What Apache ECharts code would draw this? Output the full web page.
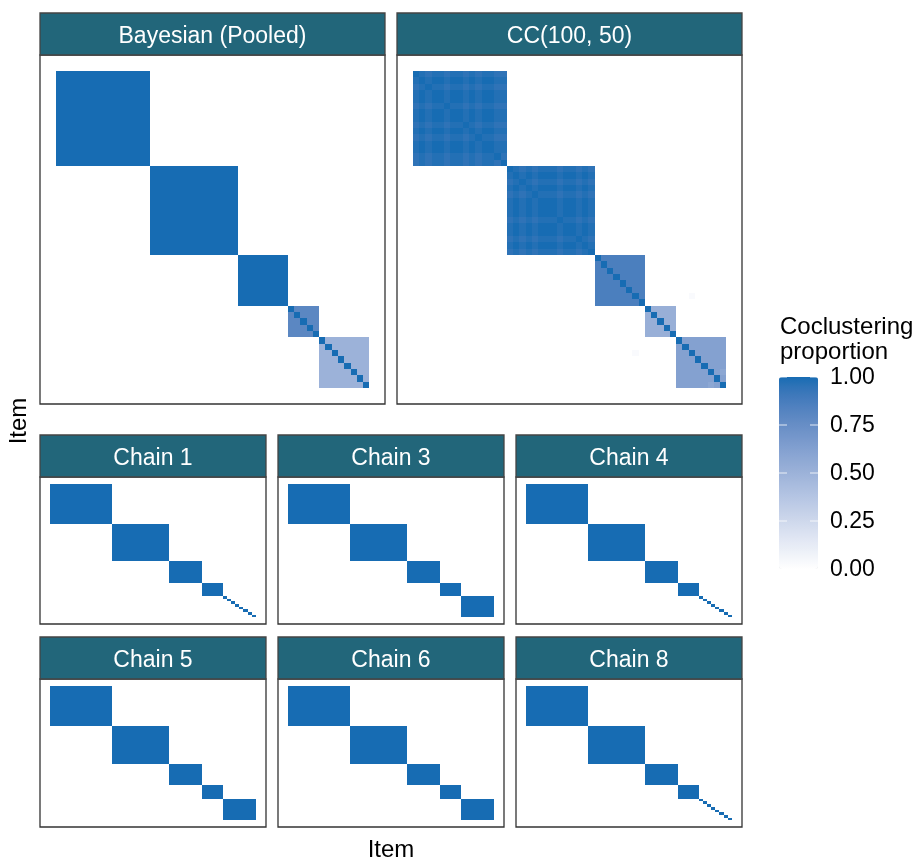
<!DOCTYPE html>
<html>
<head>
<meta charset="utf-8">
<script src="https://cdn.jsdelivr.net/npm/echarts@6/dist/echarts.min.js"></script>
<style>
  html, body { margin: 0; padding: 0; background: #ffffff; }
  #chart { width: 919px; height: 858px; }
</style>
</head>
<body>
<div id="chart"></div>
<script>
// ---- data -------------------------------------------------------------
const nItems = 50;
const items = Array.from({ length: nItems }, (_, i) => String(i + 1));

const panelTitles = ['Bayesian (Pooled)', 'CC(100, 50)', 'Chain 1', 'Chain 3', 'Chain 4', 'Chain 5', 'Chain 6', 'Chain 8'];

// cluster sizes along the ordered items, and the within-cluster coclustering proportion
const pooledSizes = [15, 14, 8, 5, 8];
const pooledWithin = [1.0, 1.0, 1.0, 0.80, 0.50];

const ccSizes = [15, 14, 8, 5, 8];
const ccWithin = [null, null, 0.86, 0.52, 0.62];
// per-item stability inside the two large CC clusters
const ccStabilityA = [0.95, 1.0, 0.95, 1.0, 1.0, 0.95, 1.0, 1.0, 0.95, 1.0, 0.95, 1.0, 1.0, 0.95, 0.95];
const ccStabilityB = [0.95, 1.0, 0.95, 1.0, 0.95, 1.0, 1.0, 1.0, 0.95, 1.0, 1.0, 0.95, 1.0, 0.95];
// isolated off-cluster pairs in CC: [item, item, proportion]
const ccStrayPairs = [[36, 45, 0.03], [48, 50, 0.58]];

// chain allocations as cluster sizes (1 = singleton)
const chain1Sizes = [15, 14, 8, 5, 1, 1, 1, 1, 1, 1, 1, 1];
const chain3Sizes = [15, 14, 8, 5, 8];
const chain4Sizes = [15, 14, 8, 5, 1, 1, 1, 1, 1, 1, 1, 1];
const chain5Sizes = [15, 14, 8, 5, 8];
const chain6Sizes = [15, 14, 8, 5, 8];
const chain8Sizes = [15, 14, 8, 5, 1, 1, 1, 1, 1, 1, 1, 1];

const legendBreaks = [0, 0.25, 0.5, 0.75, 1];
const legendLabels = ['0.00', '0.25', '0.50', '0.75', '1.00'];

// ---- matrix builders --------------------------------------------------
function blockCells(sizes, within, stability) {
  const cells = [];
  let start = 0;
  sizes.forEach((size, b) => {
    for (let i = 0; i < size; i++) {
      for (let j = 0; j < size; j++) {
        let v;
        if (i === j) v = 1;
        else if (stability && stability[b]) v = (stability[b][i] + stability[b][j]) / 2;
        else v = within ? within[b] : 1;
        cells.push([start + j, start + i, v]);
      }
    }
    start += size;
  });
  return cells;
}

function setPair(cells, a, b, v) {
  [[a, b], [b, a]].forEach(([x, y]) => {
    const hit = cells.find(c => c[0] === x - 1 && c[1] === y - 1);
    if (hit) hit[2] = v; else cells.push([x - 1, y - 1, v]);
  });
}

const pooledCells = blockCells(pooledSizes, pooledWithin);
const ccCells = blockCells(ccSizes, ccWithin, [ccStabilityA, ccStabilityB]);
ccStrayPairs.forEach(([a, b, v]) => setPair(ccCells, a, b, v));

const panelCells = [
  pooledCells,
  ccCells,
  blockCells(chain1Sizes),
  blockCells(chain3Sizes),
  blockCells(chain4Sizes),
  blockCells(chain5Sizes),
  blockCells(chain6Sizes),
  blockCells(chain8Sizes)
];

// ---- colour ramp (white -> blue, interpolated in CIELAB) -------------
const lowColor = [255, 255, 255];
const highColor = [23, 108, 179];
function toLin(c) { c /= 255; return c <= 0.04045 ? c / 12.92 : Math.pow((c + 0.055) / 1.055, 2.4); }
function fromLin(c) { const v = c <= 0.0031308 ? 12.92 * c : 1.055 * Math.pow(c, 1 / 2.4) - 0.055; return Math.round(Math.max(0, Math.min(1, v)) * 255); }
const WX = 0.95047, WY = 1.0, WZ = 1.08883;
function fLab(t) { return t > 216 / 24389 ? Math.cbrt(t) : (24389 / 27 * t + 16) / 116; }
function fInv(t) { return t * t * t > 216 / 24389 ? t * t * t : (116 * t - 16) / (24389 / 27); }
function rgbToLab(rgb) {
  const [r, g, b] = rgb.map(toLin);
  const X = (0.4124 * r + 0.3576 * g + 0.1805 * b) / WX;
  const Y = (0.2126 * r + 0.7152 * g + 0.0722 * b) / WY;
  const Z = (0.0193 * r + 0.1192 * g + 0.9505 * b) / WZ;
  const fx = fLab(X), fy = fLab(Y), fz = fLab(Z);
  return [116 * fy - 16, 500 * (fx - fy), 200 * (fy - fz)];
}
function labToRgb([L, a, bb]) {
  const fy = (L + 16) / 116, fx = fy + a / 500, fz = fy - bb / 200;
  const X = fInv(fx) * WX, Y = fInv(fy) * WY, Z = fInv(fz) * WZ;
  const r = 3.2406 * X - 1.5372 * Y - 0.4986 * Z;
  const g = -0.9689 * X + 1.8758 * Y + 0.0415 * Z;
  const b = 0.0557 * X - 0.2040 * Y + 1.0570 * Z;
  return 'rgb(' + fromLin(r) + ',' + fromLin(g) + ',' + fromLin(b) + ')';
}
const labLow = rgbToLab(lowColor), labHigh = rgbToLab(highColor);
const rampStops = [];
for (let k = 0; k <= 20; k++) {
  const t = k / 20;
  rampStops.push(labToRgb(labLow.map((v, i) => v + (labHigh[i] - v) * t)));
}

// ---- layout -----------------------------------------------------------
const FONT = '"Liberation Sans", Arial, sans-serif';
const STRIP_H = 42;
const panels = [
  { x0: 40, x1: 385, top: 13, bottom: 404 },
  { x0: 397, x1: 742, top: 13, bottom: 404 },
  { x0: 40, x1: 266, top: 435, bottom: 624 },
  { x0: 278, x1: 504, top: 435, bottom: 624 },
  { x0: 516, x1: 742, top: 435, bottom: 624 },
  { x0: 40, x1: 266, top: 637, bottom: 827 },
  { x0: 278, x1: 504, top: 637, bottom: 827 },
  { x0: 516, x1: 742, top: 637, bottom: 827 }
];
const EXPAND = 2.5 / 55; // 5% padding around the 50 items

// one tile per cell, snapped to whole pixels so neighbouring tiles butt cleanly
function renderTile(params, api) {
  const c = api.coord([api.value(0), api.value(1)]);
  const s = api.size([1, 1]);
  const xA = Math.round(c[0] - s[0] / 2), xB = Math.round(c[0] + s[0] / 2);
  const yA = Math.round(c[1] - s[1] / 2), yB = Math.round(c[1] + s[1] / 2);
  return {
    type: 'rect',
    shape: { x: xA, y: yA, width: xB - xA, height: yB - yA },
    style: { fill: api.visual('color'), stroke: null }
  };
}

const grids = [], xAxes = [], yAxes = [], series = [], graphics = [];
panels.forEach((p, k) => {
  const plotTop = p.top + STRIP_H;
  const w = p.x1 - p.x0, h = p.bottom - plotTop;
  grids.push({
    left: p.x0 + w * EXPAND, top: plotTop + h * EXPAND,
    width: w * (1 - 2 * EXPAND), height: h * (1 - 2 * EXPAND),
    containLabel: false
  });
  const hidden = { show: false };
  xAxes.push({ type: 'category', gridIndex: k, data: items, axisLine: hidden, axisTick: hidden, axisLabel: hidden, splitLine: hidden });
  yAxes.push({ type: 'category', gridIndex: k, data: items, inverse: true, axisLine: hidden, axisTick: hidden, axisLabel: hidden, splitLine: hidden });
  series.push({
    type: 'custom', xAxisIndex: k, yAxisIndex: k, data: panelCells[k],
    encode: { x: 0, y: 1 }, renderItem: renderTile, silent: true
  });
  // panel frame
  graphics.push({
    type: 'rect', silent: true, z: 10,
    shape: { x: p.x0, y: plotTop, width: w, height: h },
    style: { fill: null, stroke: '#333333', lineWidth: 1.3 }
  });
  // strip
  graphics.push({
    type: 'rect', silent: true, z: 10,
    shape: { x: p.x0, y: p.top, width: w, height: STRIP_H },
    style: { fill: '#22667a', stroke: '#444444', lineWidth: 1.3 }
  });
  graphics.push({
    type: 'text', silent: true, z: 11,
    x: (p.x0 + p.x1) / 2, y: p.top + STRIP_H / 2 + 3,
    style: { text: panelTitles[k], fill: '#ffffff', font: '23px ' + FONT, align: 'center', verticalAlign: 'middle' }
  });
});

// axis titles
graphics.push({
  type: 'text', silent: true,
  x: 391, y: 850,
  style: { text: 'Item', fill: '#000000', font: '24px ' + FONT, align: 'center', verticalAlign: 'middle' }
});
graphics.push({
  type: 'text', silent: true,
  x: 19, y: 421, rotation: Math.PI / 2,
  style: { text: 'Item', fill: '#000000', font: '24px ' + FONT, align: 'center', verticalAlign: 'middle' }
});

// colour bar legend
const BAR = { x: 779, top: 377, width: 39, height: 192 };
graphics.push({
  type: 'text', silent: true, x: 780, y: 327,
  style: { text: 'Coclustering', fill: '#000000', font: '24px ' + FONT, align: 'left', verticalAlign: 'middle' }
});
graphics.push({
  type: 'text', silent: true, x: 780, y: 352,
  style: { text: 'proportion', fill: '#000000', font: '24px ' + FONT, align: 'left', verticalAlign: 'middle' }
});
legendBreaks.forEach((b, i) => {
  const y = BAR.top + BAR.height * (1 - b);
  graphics.push({
    type: 'text', silent: true, x: 830, y: y + 1,
    style: { text: legendLabels[i], fill: '#000000', font: '23px ' + FONT, align: 'left', verticalAlign: 'middle' }
  });
  [[BAR.x, BAR.x + 8], [BAR.x + BAR.width - 8, BAR.x + BAR.width]].forEach(([a, c]) => {
    graphics.push({
      type: 'line', silent: true, z: 20,
      shape: { x1: a, y1: y, x2: c, y2: y },
      style: { stroke: 'rgba(255,255,255,0.8)', lineWidth: 1 }
    });
  });
});

const chart = echarts.init(document.getElementById('chart'), null, { renderer: 'canvas' });
chart.setOption({
  animation: false,
  backgroundColor: '#ffffff',
  grid: grids,
  xAxis: xAxes,
  yAxis: yAxes,
  visualMap: {
    type: 'continuous', min: 0, max: 1, dimension: 2, calculable: false, orient: 'vertical',
    left: BAR.x, top: BAR.top, itemWidth: BAR.width, itemHeight: BAR.height,
    padding: 0, text: null, showLabel: false,
    inRange: { color: rampStops },
    seriesIndex: series.map((_, i) => i)
  },
  series: series,
  graphic: graphics
});
</script>
</body>
</html>
